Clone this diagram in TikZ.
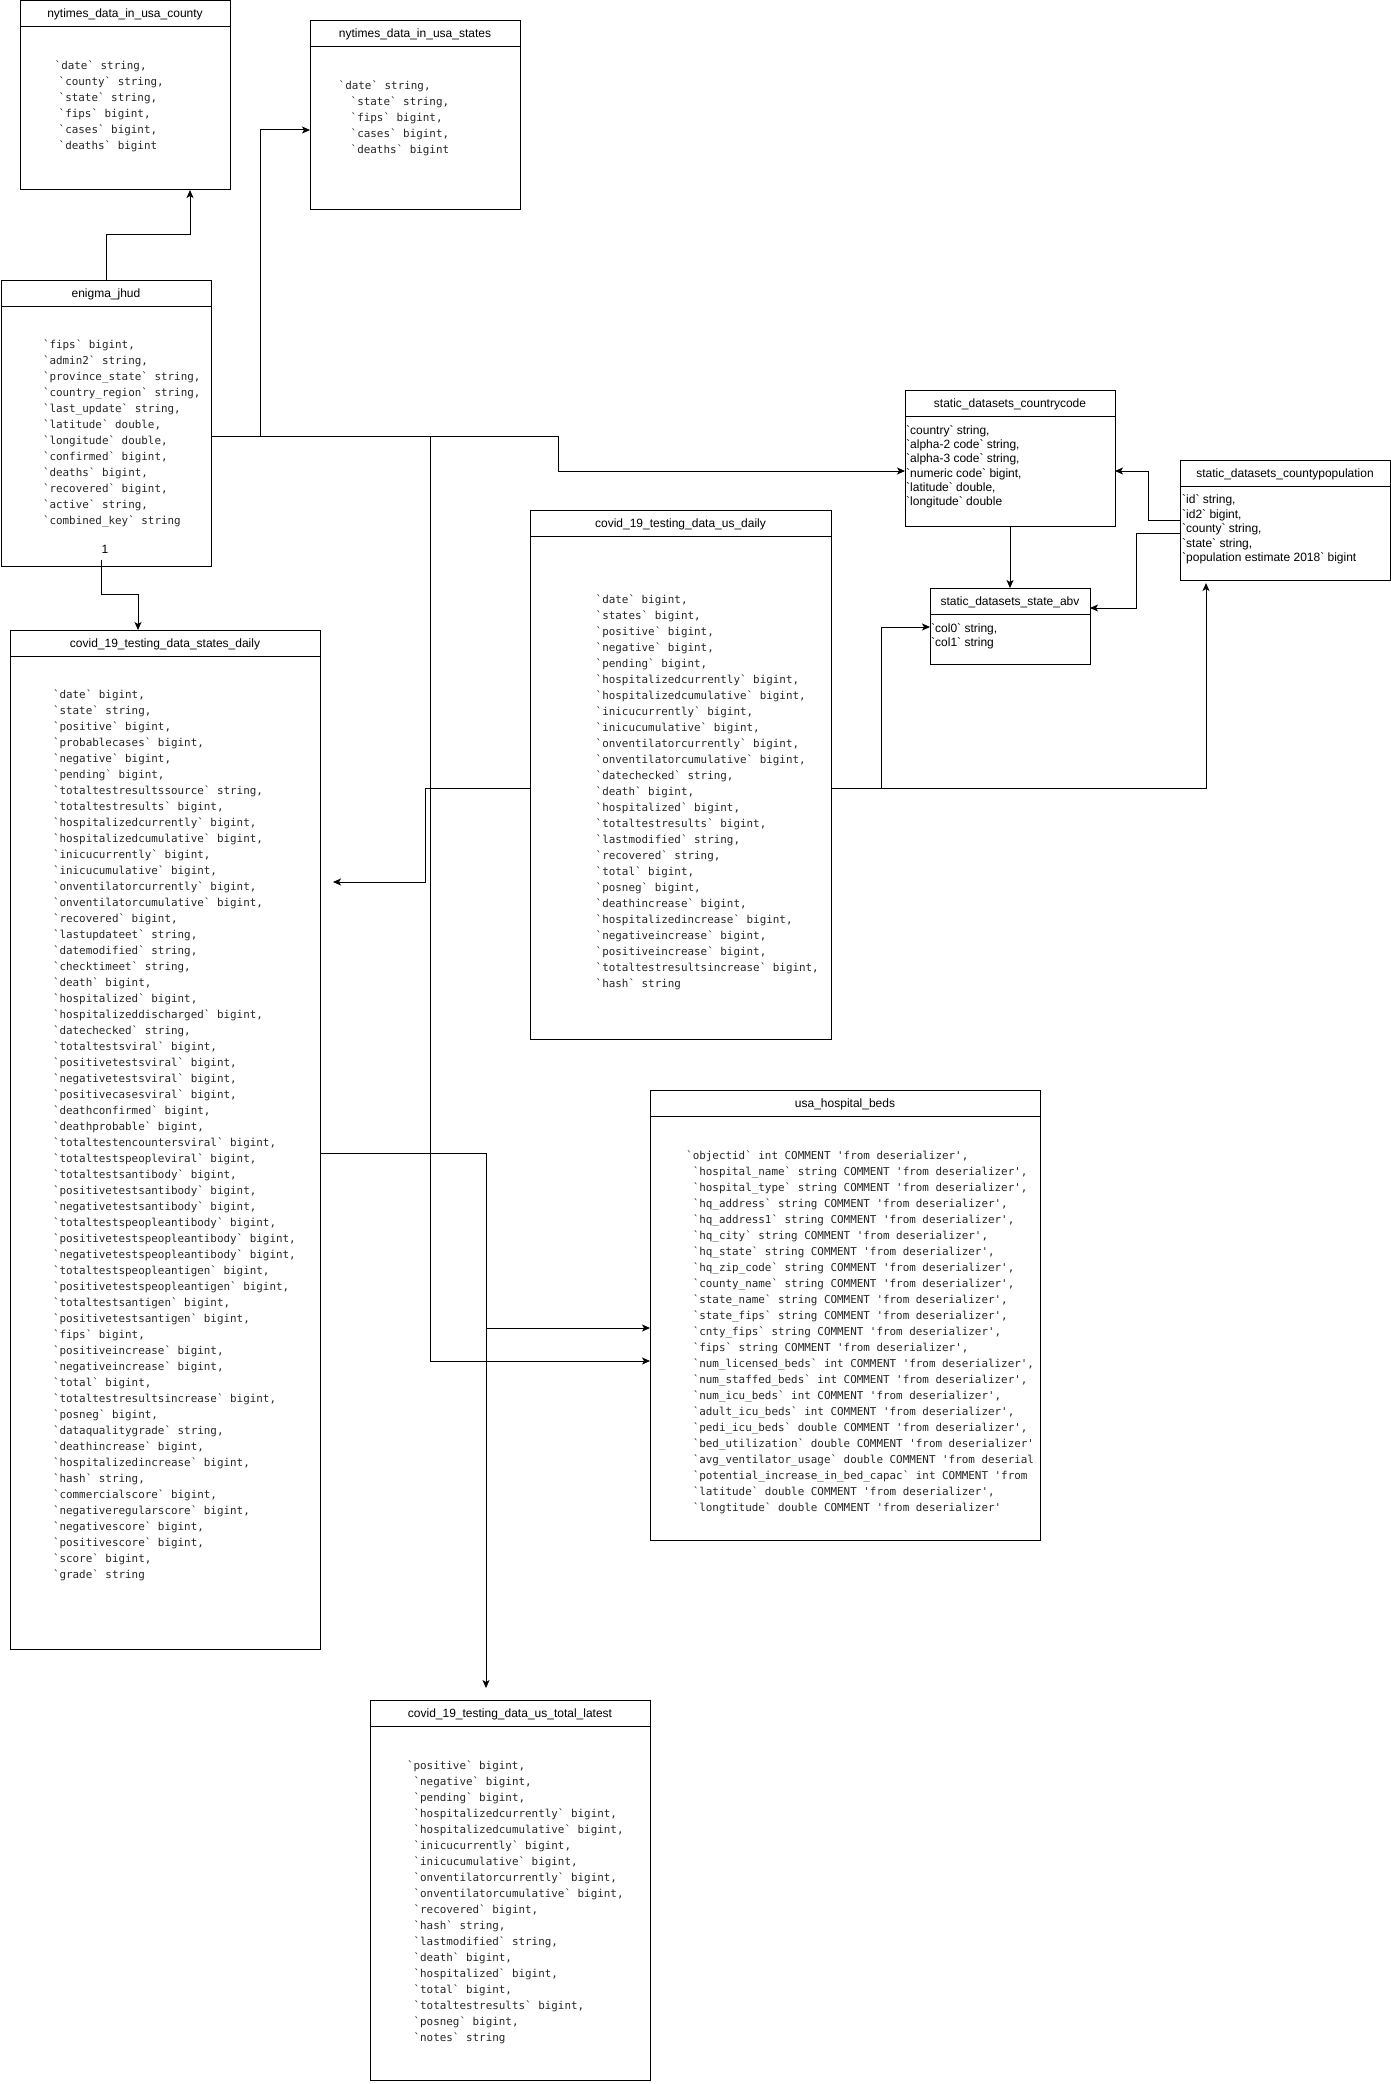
\documentclass[tikz,border=0pt]{standalone}
\usepackage{fontspec}
\setmonofont{DejaVu Sans Mono}
\newfontfamily\sansf{Liberation Sans}[Ligatures=TeXOff]
\usetikzlibrary{arrows.meta,calc}

\tikzset{
 tbox/.style={draw, line width=1pt, inner sep=0pt, outer sep=0pt, anchor=north west},
 ttl/.style={font=\sansf\fontsize{12}{14}\selectfont, anchor=base, inner sep=0pt},
 monotxt/.style={font=\ttfamily\fontsize{10.9}{16}\selectfont, inner sep=0pt, text=black!85},
 sanstxt/.style={font=\sansf\fontsize{12}{14}\selectfont, inner sep=0pt},
 edge/.style={draw, line width=1pt, -{Stealth[length=8pt,width=7pt,inset=2pt]}},
}

% name, x, y, w, h, title
\newcommand\mktable[6]{%
  \node[tbox, minimum width=#4pt, minimum height=#5pt] (#1) at (#2,#3) {};
  \draw[line width=1pt] ($(#1.north west)+(0,26)$) -- ($(#1.north east)+(0,26)$);
  \node[ttl] (#1-title) at ($(#1.north)+(0,17)$) {#6};
}
% name, style, x first, x rest, baseline first, spacing, list
\newcommand\tablines[7]{%
  \foreach \t [count=\i from 0] in {#7} {
    \ifnum\i=0 \def\xx{#3}\else\def\xx{#4}\fi
    \node[#2, anchor=base west] (#1-l\i) at ({\xx},{#5+#6*\i}) {\t};
  }}

\begin{document}
\begin{tikzpicture}[x=1pt,y=-1pt]
\fill[white] (0,0) rectangle (1391,2084);
\useasboundingbox (0,0) rectangle (1391,2084);

\mktable{county}{20}{1}{210}{189}{nytimes\_data\_in\_usa\_county}
\mktable{states}{310}{21}{210}{189}{nytimes\_data\_in\_usa\_states}
\mktable{enigma}{1}{280}{210}{286}{enigma\_jhud}
\mktable{ccode}{905}{390}{210}{136}{static\_datasets\_countrycode}
\mktable{cpop}{1180}{460}{210}{120}{static\_datasets\_countypopulation}
\mktable{abv}{930}{588}{160}{76}{static\_datasets\_state\_abv}
\mktable{usdaily}{530}{510}{301}{529}{covid\_19\_testing\_data\_us\_daily}
\mktable{sdaily}{10}{630}{310}{1019}{covid\_19\_testing\_data\_states\_daily}
\mktable{beds}{650}{1090}{390}{450}{usa\_hospital\_beds}
\mktable{tlatest}{370}{1700}{280}{380}{covid\_19\_testing\_data\_us\_total\_latest}

\tablines{county}{monotxt}{54.5}{58.5}{69.5}{16}{{`date` string,},{`county` string,},{`state` string,},{`fips` bigint,},{`cases` bigint,},{`deaths` bigint}}

\tablines{states}{monotxt}{338.5}{350.5}{90}{16}{{`date` string,},{`state` string,},{`fips` bigint,},{`cases` bigint,},{`deaths` bigint}}

\tablines{enigma}{monotxt}{42.8}{42.8}{348.5}{16}{{`fips` bigint,},{`admin2` string,},{`province\_state` string,},{`country\_region` string,},{`last\_update` string,},{`latitude` double,},{`longitude` double,},{`confirmed` bigint,},{`deaths` bigint,},{`recovered` bigint,},{`active` string,},{`combined\_key` string}}

\node[sanstxt] (one) at (105,549) {1};

\tablines{ccode}{sanstxt}{906}{906}{434.3}{14.3}{{`country` string,},{`alpha-2 code` string,},{`alpha-3 code` string,},{`numeric code` bigint,},{`latitude` double,},{`longitude` double}}

\tablines{cpop}{sanstxt}{1182}{1182}{503.5}{14.5}{{`id` string,},{`id2` bigint,},{`county` string,},{`state` string,},{`population estimate 2018` bigint}}

\tablines{abv}{sanstxt}{931}{931}{632}{14}{{`col0` string,},{`col1` string}}

\tablines{usdaily}{monotxt}{595.5}{595.5}{603}{16}{{`date` bigint,},{`states` bigint,},{`positive` bigint,},{`negative` bigint,},{`pending` bigint,},{`hospitalizedcurrently` bigint,},{`hospitalizedcumulative` bigint,},{`inicucurrently` bigint,},{`inicucumulative` bigint,},{`onventilatorcurrently` bigint,},{`onventilatorcumulative` bigint,},{`datechecked` string,},{`death` bigint,},{`hospitalized` bigint,},{`totaltestresults` bigint,},{`lastmodified` string,},{`recovered` string,},{`total` bigint,},{`posneg` bigint,},{`deathincrease` bigint,},{`hospitalizedincrease` bigint,},{`negativeincrease` bigint,},{`positiveincrease` bigint,},{`totaltestresultsincrease` bigint,},{`hash` string}}

\tablines{sdaily}{monotxt}{52.8}{52.8}{698}{16}{{`date` bigint,},{`state` string,},{`positive` bigint,},{`probablecases` bigint,},{`negative` bigint,},{`pending` bigint,},{`totaltestresultssource` string,},{`totaltestresults` bigint,},{`hospitalizedcurrently` bigint,},{`hospitalizedcumulative` bigint,},{`inicucurrently` bigint,},{`inicucumulative` bigint,},{`onventilatorcurrently` bigint,},{`onventilatorcumulative` bigint,},{`recovered` bigint,},{`lastupdateet` string,},{`datemodified` string,},{`checktimeet` string,},{`death` bigint,},{`hospitalized` bigint,},{`hospitalizeddischarged` bigint,},{`datechecked` string,},{`totaltestsviral` bigint,},{`positivetestsviral` bigint,},{`negativetestsviral` bigint,},{`positivecasesviral` bigint,},{`deathconfirmed` bigint,},{`deathprobable` bigint,},{`totaltestencountersviral` bigint,},{`totaltestspeopleviral` bigint,},{`totaltestsantibody` bigint,},{`positivetestsantibody` bigint,},{`negativetestsantibody` bigint,},{`totaltestspeopleantibody` bigint,},{`positivetestspeopleantibody` bigint,},{`negativetestspeopleantibody` bigint,},{`totaltestspeopleantigen` bigint,},{`positivetestspeopleantigen` bigint,},{`totaltestsantigen` bigint,},{`positivetestsantigen` bigint,},{`fips` bigint,},{`positiveincrease` bigint,},{`negativeincrease` bigint,},{`total` bigint,},{`totaltestresultsincrease` bigint,},{`posneg` bigint,},{`dataqualitygrade` string,},{`deathincrease` bigint,},{`hospitalizedincrease` bigint,},{`hash` string,},{`commercialscore` bigint,},{`negativeregularscore` bigint,},{`negativescore` bigint,},{`positivescore` bigint,},{`score` bigint,},{`grade` string}}

\tablines{beds}{monotxt}{686}{692.6}{1159}{16}{{`objectid` int COMMENT 'from deserializer',},{`hospital\_name` string COMMENT 'from deserializer',},{`hospital\_type` string COMMENT 'from deserializer',},{`hq\_address` string COMMENT 'from deserializer',},{`hq\_address1` string COMMENT 'from deserializer',},{`hq\_city` string COMMENT 'from deserializer',},{`hq\_state` string COMMENT 'from deserializer',},{`hq\_zip\_code` string COMMENT 'from deserializer',},{`county\_name` string COMMENT 'from deserializer',},{`state\_name` string COMMENT 'from deserializer',},{`state\_fips` string COMMENT 'from deserializer',},{`cnty\_fips` string COMMENT 'from deserializer',},{`fips` string COMMENT 'from deserializer',},{`num\_licensed\_beds` int COMMENT 'from deserializer',},{`num\_staffed\_beds` int COMMENT 'from deserializer',},{`num\_icu\_beds` int COMMENT 'from deserializer',},{`adult\_icu\_beds` int COMMENT 'from deserializer',},{`pedi\_icu\_beds` double COMMENT 'from deserializer',},{`bed\_utilization` double COMMENT 'from deserializer'},{`avg\_ventilator\_usage` double COMMENT 'from deserial},{`potential\_increase\_in\_bed\_capac` int COMMENT 'from},{`latitude` double COMMENT 'from deserializer',},{`longtitude` double COMMENT 'from deserializer'}}

\tablines{tlatest}{monotxt}{406.8}{413.4}{1769}{16}{{`positive` bigint,},{`negative` bigint,},{`pending` bigint,},{`hospitalizedcurrently` bigint,},{`hospitalizedcumulative` bigint,},{`inicucurrently` bigint,},{`inicucumulative` bigint,},{`onventilatorcurrently` bigint,},{`onventilatorcumulative` bigint,},{`recovered` bigint,},{`hash` string,},{`lastmodified` string,},{`death` bigint,},{`hospitalized` bigint,},{`total` bigint,},{`totaltestresults` bigint,},{`posneg` bigint,},{`notes` string}}

% connectors
\draw[edge] (enigma.north) -- ($(enigma.north)+(0,-45)$) -| ($(county.south west)+(170,0)$);
\draw[edge] ($(enigma.north east)+(0,156)$) -| ($(states.north west)+(-50,109)$) -- ($(states.north west)+(0,109)$);
\draw[edge] ($(enigma.north east)+(0,156)$) -| ($(ccode.north west)+(-347,81)$) -- ($(ccode.north west)+(0,81)$);
\draw[edge] ($(enigma.north east)+(0,156)$) -| ($(beds.north west)+(-220,271)$) -- ($(beds.north west)+(0,271)$);
\draw[edge] ($(enigma.south west)+(100,-6)$) -- ($(enigma.south west)+(100,28)$) -| ($(sdaily.north west)+(128,0)$);
\draw[edge] ($(usdaily.north west)+(0,278)$) -| ($(usdaily.north west)+(-105,372)$) -- ($(sdaily.north east)+(13,252)$);
\draw[edge] ($(usdaily.north east)+(0,278)$) -| ($(abv.north west)+(-49,39)$) -- ($(abv.north west)+(0,39)$);
\draw[edge] ($(usdaily.north east)+(0,278)$) -| ($(cpop.south west)+(26,3)$);
\draw[edge] (ccode.south) -- (ccode.south |- abv.north);
\draw[edge] ($(cpop.north west)+(0,60)$) -| ($(ccode.north east)+(33,81)$) -- ($(ccode.north east)+(0,81)$);
\draw[edge] ($(cpop.north west)+(0,73)$) -| ($(abv.north east)+(46,20)$) -- ($(abv.north east)+(0,20)$);
\draw[edge] ($(sdaily.north east)+(0,523)$) -| ($(beds.north west)+(-164,238)$) -- ($(beds.north west)+(0,238)$);
\draw[edge] ($(sdaily.north east)+(0,523)$) -| ($(tlatest.north west)+(116,-12)$);
\end{tikzpicture}
\end{document}
